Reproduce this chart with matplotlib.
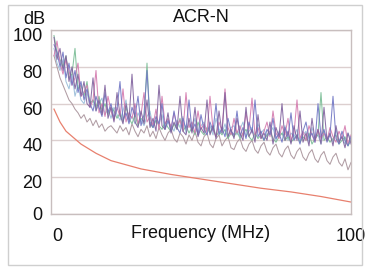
import numpy as np
import matplotlib
matplotlib.use("Agg")
import matplotlib.pyplot as plt
from matplotlib.patches import Rectangle
from matplotlib.transforms import ScaledTranslation

plt.rcParams['font.family'] = ['Liberation Sans', 'DejaVu Sans']

title = "ACR-N"
xlabel = "Frequency (MHz)"
ylabel = "dB"
yticks = [0, 20, 40, 60, 80, 100]
xticks = [0, 100]

freq = np.arange(1, 101)

purple = [96, 84, 90, 78, 86, 72, 80, 68, 76, 64,
          72, 60, 58, 74, 56, 62, 54, 70, 52, 58,
          50, 66, 54, 49, 60, 51, 76, 50, 47, 56,
          49, 62, 47, 52, 45, 70, 48, 46, 55, 44,
          50, 46, 64, 45, 43, 52, 44, 58, 42, 47,
          44, 62, 43, 48, 41, 56, 44, 66, 42, 46,
          41, 52, 44, 40, 58, 42, 46, 39, 54, 41,
          44, 40, 50, 38, 47, 42, 60, 40, 45, 38,
          48, 40, 56, 39, 44, 37, 52, 40, 46, 38,
          58, 40, 44, 37, 48, 39, 42, 36, 44, 38]

blue = [92, 88, 80, 88, 74, 82, 70, 78, 66, 72,
        62, 68, 60, 56, 64, 58, 53, 66, 55, 60,
        52, 57, 72, 51, 55, 49, 58, 53, 64, 48,
        54, 78, 50, 47, 53, 49, 60, 46, 51, 45,
        56, 47, 44, 52, 46, 62, 45, 49, 43, 54,
        46, 43, 50, 45, 60, 43, 47, 42, 52, 45,
        43, 56, 42, 47, 41, 50, 44, 62, 42, 45,
        40, 46, 43, 52, 41, 44, 39, 47, 42, 55,
        40, 43, 38, 45, 50, 41, 44, 39, 60, 42,
        46, 39, 43, 64, 41, 38, 45, 40, 37, 42]

pink = [86, 94, 82, 76, 84, 78, 70, 74, 82, 64,
        66, 70, 58, 62, 78, 55, 60, 53, 64, 56,
        51, 58, 53, 68, 50, 55, 52, 60, 49, 54,
        66, 50, 53, 48, 57, 46, 64, 49, 52, 47,
        55, 48, 51, 45, 66, 47, 50, 44, 56, 46,
        49, 44, 64, 46, 42, 50, 45, 68, 47, 43,
        52, 44, 48, 42, 55, 46, 63, 43, 47, 41,
        45, 50, 42, 56, 44, 41, 48, 43, 52, 40,
        44, 62, 41, 45, 40, 48, 43, 39, 46, 41,
        44, 40, 47, 42, 39, 45, 41, 48, 38, 43]

green = [97, 88, 84, 80, 86, 74, 76, 90, 68, 70,
         64, 72, 60, 62, 58, 64, 56, 60, 54, 58,
         56, 52, 55, 50, 58, 52, 49, 54, 48, 52,
         50, 82, 49, 47, 51, 48, 46, 50, 47, 45,
         49, 46, 52, 45, 48, 44, 47, 43, 50, 45,
         43, 47, 44, 48, 42, 45, 43, 46, 41, 44,
         42, 45, 41, 44, 46, 42, 40, 44, 41, 43,
         40, 43, 45, 41, 39, 42, 44, 40, 42, 39,
         41, 43, 39, 42, 40, 44, 38, 41, 43, 66,
         40, 42, 39, 41, 43, 38, 40, 42, 37, 40]

grey = [86, 80, 74, 70, 66, 62, 60, 57, 55, 52,
        54, 50, 52, 48, 51, 47, 49, 45, 47, 48,
        46, 44, 48, 45, 47, 43, 49, 45, 42, 46,
        44, 48, 42, 45, 41, 47, 43, 40, 44, 46,
        41, 39, 44, 42, 38, 43, 40, 45, 39, 37,
        42, 44, 38, 36, 41, 43, 37, 40, 42, 36,
        35, 39, 41, 36, 34, 38, 40, 35, 33, 37,
        39, 34, 32, 36, 38, 33, 31, 35, 37, 32,
        30, 34, 36, 31, 29, 33, 35, 30, 28, 32,
        34, 29, 27, 31, 33, 28, 26, 30, 24, 28]

lightblue = [90, 82, 78, 84, 72, 68, 76, 64, 70, 62,
             60, 66, 58, 62, 56, 60, 63, 54, 57, 52,
             58, 54, 51, 56, 62, 50, 53, 49, 55, 51,
             48, 53, 56, 47, 51, 49, 54, 46, 50, 48,
             45, 51, 47, 53, 44, 49, 46, 52, 43, 48,
             50, 45, 48, 43, 52, 46, 44, 49, 42, 47,
             48, 43, 46, 50, 42, 45, 47, 41, 49, 44,
             46, 42, 44, 47, 40, 45, 43, 48, 40, 44,
             42, 46, 40, 43, 45, 39, 47, 41, 43, 38,
             45, 41, 43, 39, 46, 40, 42, 38, 44, 40]

limit_freq = [1, 3, 5, 10, 15, 20, 30, 40, 50, 60, 70, 80, 90, 100]
limit_db = [57, 50, 45, 38, 33, 29, 24.5, 21.5, 19, 16.5, 14, 12, 9.5, 6.5]

W, H = 367, 273
fig = plt.figure(figsize=(W / 100, H / 100), dpi=100)
fig.patch.set_facecolor('white')

# outer frame
fig.patches.append(Rectangle((8 / W, 1 - 265 / H), 354 / W, 260 / H,
                             transform=fig.transFigure, fill=False,
                             edgecolor='#cfcfcf', linewidth=1.0))

ax = fig.add_axes([51 / W, 1 - 214 / H, 300 / W, 184 / H])
ax.set_xlim(0, 100)
ax.set_ylim(0, 100)

series = [(grey, '#a8929a'), (lightblue, '#98bcd8'), (green, '#78bc94'),
          (pink, '#d47aae'), (blue, '#7076c4'), (purple, '#80629e')]
for vals, col in series:
    ax.plot(freq, vals, color=col, linewidth=0.75, alpha=0.9)

ax.plot(limit_freq, limit_db, color='#e8806e', linewidth=0.9)

ax.set_yticks(yticks)
ax.set_xticks(xticks)
ax.grid(axis='y', color='#dccfcf', linewidth=1.0)
ax.set_axisbelow(True)
ax.tick_params(length=0, labelsize=13, colors='#111111')
ax.tick_params(axis='y', pad=6)
ax.tick_params(axis='x', pad=10)
for s in ax.spines.values():
    s.set_color('#c8bebe')
    s.set_linewidth(1.0)

# nudge tick labels as in the reference
for val, lab in zip(yticks, ax.get_yticklabels()):
    dy = 0.7 if val == 0 else -3.2
    lab.set_transform(lab.get_transform() + ScaledTranslation(0, dy / 72, fig.dpi_scale_trans))
xl = ax.get_xticklabels()
xl[0].set_transform(xl[0].get_transform() + ScaledTranslation(4.5 / 72, 0, fig.dpi_scale_trans))

fig.text(45 / W, 1 - 19 / H, ylabel, ha='right', va='center', fontsize=13, color='#111111')
fig.text(201 / W, 1 - 18 / H, title, ha='center', va='center', fontsize=13, color='#111111')
fig.text(201 / W, 1 - 233 / H, xlabel, ha='center', va='center', fontsize=13, color='#111111')

fig.savefig('out.png', dpi=100, facecolor='white')
